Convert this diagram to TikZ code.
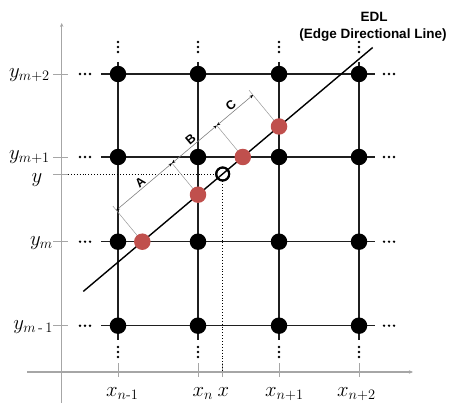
\documentclass[tikz,border=0pt]{standalone}
\usepackage{amsmath}
\usepackage{fontspec}
\newfontfamily\labfont{Liberation Sans}
\usetikzlibrary{arrows.meta,calc}
\definecolor{edlred}{HTML}{C0504D}
\definecolor{axisgray}{HTML}{A6A6A6}
\begin{document}
\begin{tikzpicture}[x=1pt,y=-1pt,
  bdot/.style={circle,fill=black,inner sep=0pt,minimum size=16.5pt},
  rdot/.style={circle,fill=edlred,inner sep=0pt,minimum size=16.5pt},
  ocirc/.style={circle,draw=black,line width=2pt,inner sep=0pt,minimum size=13pt},
  gridline/.style={line width=1.5pt,draw=black!88},
  axisline/.style={line width=1.1pt,draw=axisgray,-{Stealth[length=4pt,width=3.5pt]}},
  tickline/.style={line width=0.9pt,draw=axisgray},
  guide/.style={dotted,line width=0.9pt},
  edlline/.style={line width=1.4pt,draw=black},
  extline/.style={line width=0.5pt,draw=black!40},
  dimline/.style={line width=0.6pt,draw=black!50,{Stealth[length=3.5pt,width=3pt,black]}-{Stealth[length=3.5pt,width=3pt,black]}},
  mathlab/.style={font=\fontsize{21}{25}\selectfont,inner sep=0pt},
  edltext/.style={font=\labfont\bfseries\fontsize{13.5}{16}\selectfont,inner sep=0pt},
  abclab/.style={font=\labfont\bfseries\fontsize{12.5}{15}\selectfont,inner sep=1.5pt},
  elldot/.style={fill=black}
]
\useasboundingbox (0,0) rectangle (449,403);

% axes
\coordinate (yaxb) at (61.7,403);
\coordinate (yaxt) at (61.7,23);
\coordinate (xaxl) at (27,372);
\coordinate (xaxr) at (413,372);
\draw[axisline] (yaxb) -- (yaxt);
\draw[axisline] (xaxl) -- (xaxr);

% y ticks
\foreach \ty in {74,157,174,241.7,325.7}{
  \draw[tickline] (53,\ty) -- (68,\ty);
}
% x ticks
\foreach \tx in {118,198,222.7,279,359}{
  \draw[tickline] (\tx,363) -- (\tx,377);
}

% grid lines
\foreach \ry in {74,157,241.7,325.7}{
  \draw[gridline] (101,\ry) -- (375,\ry);
}
\foreach \cx in {118,198,279,359}{
  \draw[gridline] (\cx,62) -- (\cx,340);
}

% ellipsis dots
\foreach \ry in {74,157,241.7,325.7}{
  \foreach \d in {-5,0,5}{
    \fill[elldot] (85+\d,\ry) circle (1.3pt);
    \fill[elldot] (389+\d,\ry) circle (1.3pt);
  }
}
\foreach \cx in {118,198,279,359}{
  \foreach \d in {-5,0,5}{
    \fill[elldot] (\cx,47+\d) circle (1.3pt);
    \fill[elldot] (\cx,352+\d) circle (1.3pt);
  }
}

% EDL points
\coordinate (E0) at (83.3,291.4);
\coordinate (E1) at (372.7,47.5);
\coordinate (R1) at (142.3,241.7);
\coordinate (R2) at (198,194.7);
\coordinate (R3) at (242.8,157);
\coordinate (R4) at (279,126.5);
\coordinate (D0) at ($(R1)+(-26,-31.5)$);
\coordinate (D1) at ($(R2)+(-26,-31.5)$);
\coordinate (D2) at ($(R3)+(-26,-31.5)$);
\coordinate (D3) at ($(R4)+(-26,-31.5)$);

% O point and guides
\node[ocirc] (o) at (222.7,174) {};
\coordinate (gy) at (68,174);
\coordinate (gx) at (222.7,372);
\draw[guide] (gy) -- (o.west);
\draw[guide] (o.south) -- (gx);

% EDL
\draw[edlline] (E0) -- (E1);

% extension lines
\draw[extline] (R1) -- ($(R1)!1.13!(D0)$);
\draw[extline] (R2) -- (D1);
\draw[extline] (R3) -- (D2);
\draw[extline] (R4) -- ($(R4)!1.15!(D3)$);

% dimension lines
\draw[dimline] (D0) -- node[sloped,above,abclab] (la) {A} (D1);
\draw[dimline] (D1) -- node[sloped,above,abclab] (lb) {B} (D2);
\draw[dimline] (D2) -- node[sloped,above,abclab] (lc) {C} (D3);

% black grid dots
\foreach \cx [count=\i] in {118,198,279,359}{
  \foreach \ry [count=\j] in {74,157,241.7,325.7}{
    \node[bdot] (g\i\j) at (\cx,\ry) {};
  }
}

% red dots
\node[rdot] (r1) at (R1) {};
\node[rdot] (r2) at (R2) {};
\node[rdot] (r3) at (R3) {};
\node[rdot] (r4) at (R4) {};

% redraw O on top
\node[ocirc] (o2) at (o) {};

% y labels
\node[mathlab,anchor=base east] (ym2) at (50,77.5) {$y_{m+2}$};
\node[mathlab,anchor=base east] (ym1) at (50,159.5) {$y_{m+1}$};
\node[mathlab,anchor=base east] (yy) at (42.5,183) {$y$};
\node[mathlab,anchor=base east] (ym) at (53,245.2) {$y_m$};
\node[mathlab,anchor=base east] (ymm) at (53,329) {$y_{m\,\text{-}\,1}$};

% x labels
\node[mathlab,anchor=base west] (xn1) at (106,396) {$x_{n\text{-}1}$};
\node[mathlab,anchor=base west] (xn) at (192.5,396) {$x_n$};
\node[mathlab,anchor=base west] (xx) at (217.5,396) {$x$};
\node[mathlab,anchor=base west] (xp1) at (265,396) {$x_{n+1}$};
\node[mathlab,anchor=base west] (xp2) at (337,396) {$x_{n+2}$};

% EDL text
\node[edltext,anchor=base] (edl1) at (374,22) {EDL};
\node[edltext,anchor=base] (edl2) at (373,39) {(Edge Directional Line)};
\end{tikzpicture}
\end{document}
